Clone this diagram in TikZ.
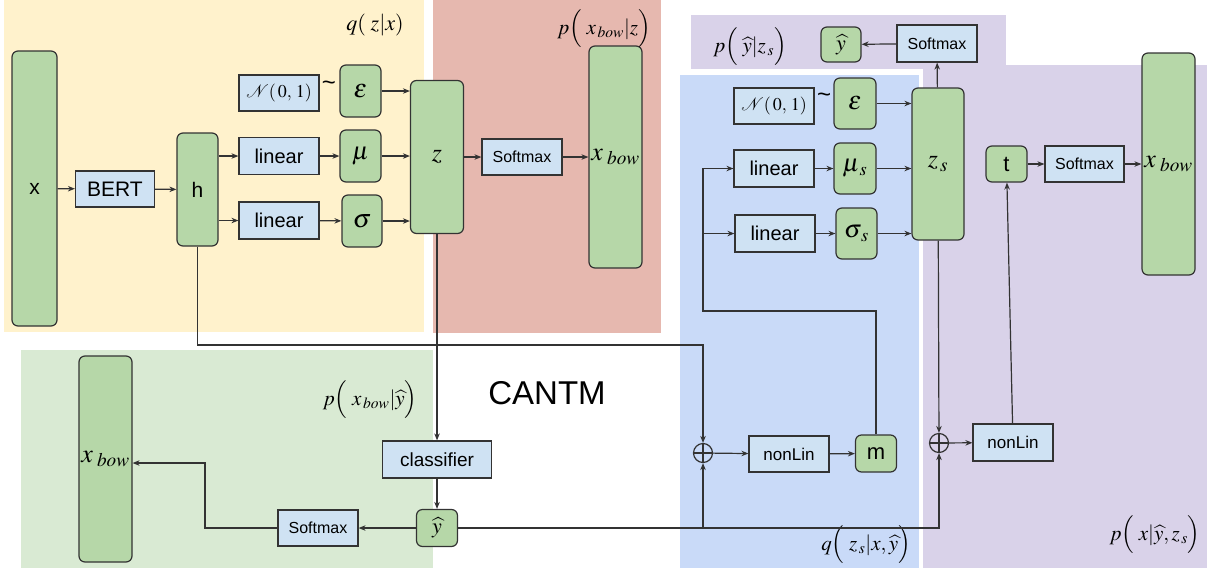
\documentclass[tikz,border=0pt]{standalone}
\usepackage{mathptmx}
\usepackage[no-math]{fontspec}
\setsansfont{Liberation Sans}
\usepackage{amsmath}
\usetikzlibrary{arrows.meta}

\definecolor{bgyellow}{HTML}{FFF2CC}
\definecolor{bgred}{HTML}{E6B8AF}
\definecolor{bggreen}{HTML}{D9EAD3}
\definecolor{bgblue}{HTML}{C9DAF8}
\definecolor{bgpurple}{HTML}{D9D2E9}
\definecolor{nodegreen}{HTML}{B6D7A8}
\definecolor{nodeblue}{HTML}{CFE2F3}
\definecolor{linegray}{HTML}{333333}

\newcommand{\fsz}[1]{\fontsize{#1}{#1}\selectfont}

\tikzset{
  gbox/.style={draw=linegray, fill=nodegreen, rounded corners=6pt, line width=1.2pt, inner sep=0pt},
  bbox/.style={draw=linegray, fill=nodeblue, line width=1.2pt, inner sep=0pt},
  sz/.style 2 args={minimum width=#1pt, minimum height=#2pt},
  oplus/.style={circle, draw=linegray, line width=1.2pt, minimum size=19pt, inner sep=0pt,
    path picture={\draw[linegray, line width=1.2pt]
      (path picture bounding box.north) -- (path picture bounding box.south)
      (path picture bounding box.west) -- (path picture bounding box.east);}},
}

\begin{document}
\begin{tikzpicture}[x=1pt,y=-1pt, line width=1.2pt, draw=linegray,
  >={Stealth[length=7pt,width=5.5pt]}]
\useasboundingbox (0,0) rectangle (1207,568);

% coloured regions
\fill[bgyellow] (4,0) rectangle (424,332);
\fill[bgred] (433,0) rectangle (661,333);
\fill[bggreen] (21,350) rectangle (433,568);
\fill[bgblue] (680,75) rectangle (919,568);
\fill[bgpurple] (691,15) rectangle (1006,69);
\fill[bgpurple] (923,65) rectangle (1207,568);

% q(z|x)
\node[gbox, sz={45}{275}, font=\sffamily\fsz{21}] (x) at (34.5,188.5) {x};
\node[bbox, sz={79}{36}, font=\sffamily\fsz{21}] (bert) at (115,189) {BERT};
\node[gbox, sz={41}{113}, font=\sffamily\fsz{21}] (h) at (197.5,189.5) {h};
\node[bbox, sz={80}{36}, font=\fsz{18}] (nrm) at (279,93) {$\mathcal{N}(\,0,\,1)$};
\node[font=\sffamily\fsz{24}] (tl) at (329,86) {\textasciitilde};
\node[gbox, sz={41}{52}, font=\fsz{26}] (eps) at (360.5,91) {$\varepsilon$};
\node[bbox, sz={80}{37}, font=\sffamily\fsz{20}] (lin1) at (279,156) {linear};
\node[gbox, sz={41}{52}, font=\fsz{25}] (mu) at (360.5,156) {$\mu$};
\node[bbox, sz={80}{37}, font=\sffamily\fsz{20}] (lin2) at (279,220.5) {linear};
\node[gbox, sz={40}{52}, font=\fsz{26}] (sig) at (362,221) {$\sigma$};
\node[gbox, sz={53}{153}, font=\fsz{26}] (z) at (437,157) {$z$};
\node[font=\fsz{22}] (lq1) at (375,25) {$q(\;z\vert x)$};

% p(x_bow|z)
\node[bbox, sz={80}{36}, font=\sffamily\fsz{16}] (smx1) at (522,157) {Softmax};
\node[gbox, sz={53}{222}, font=\fsz{26}] (xb1) at (615.5,157) {$x_{\;bow}$};
\node[font=\fsz{21}] (lp1) at (604,29) {$p\Bigl(\;x_{\,bow}\vert z\Bigr)$};

% p(x_bow|y)
\node[bbox, sz={109}{37}, font=\sffamily\fsz{19}] (clf) at (437,459.5) {classifier};
\node[gbox, sz={41}{37}, font=\fsz{22}] (yh) at (437,528) {$\widehat{y}$};
\node[bbox, sz={80}{36}, font=\sffamily\fsz{16}] (smx2) at (318,528) {Softmax};
\node[gbox, sz={53}{206}, font=\fsz{26}] (xb2) at (105.5,459) {$x_{\;bow}$};
\node[font=\fsz{21}] (lp2) at (370,400) {$p\Bigl(\;x_{\,bow}\vert\widehat{y}\Bigr)$};
\node[font=\sffamily\fsz{33}] (title) at (547,393) {CANTM};

% q(z_s|x,y)
\node[oplus] (op1) at (703,453) {};
\node[bbox, sz={80}{36}, font=\sffamily\fsz{17}] (nl1) at (789,454) {nonLin};
\node[gbox, sz={41}{37}, font=\sffamily\fsz{22}] (m) at (876,453.5) {m};
\node[bbox, sz={80}{36}, font=\fsz{18}] (nrm2) at (774,106) {$\mathcal{N}(\,0,\,1)$};
\node[font=\sffamily\fsz{24}] (tl2) at (824,98) {\textasciitilde};
\node[gbox, sz={42}{51}, font=\fsz{26}] (eps2) at (855,103.5) {$\varepsilon$};
\node[bbox, sz={80}{37}, font=\sffamily\fsz{20}] (lin3) at (774,168.5) {linear};
\node[gbox, sz={42}{51}, font=\fsz{25}] (mu2) at (855,168.5) {$\mu_{\,s}$};
\node[bbox, sz={80}{37}, font=\sffamily\fsz{20}] (lin4) at (775,233.5) {linear};
\node[gbox, sz={41}{51}, font=\fsz{25}] (sig2) at (856.5,233.5) {$\sigma_{\,s}$};
\node[gbox, sz={52}{152}, font=\fsz{26}] (zs) at (938,164) {$z_{\,s}$};
\node[font=\fsz{21}] (lq2) at (866,545) {$q\Bigl(\;z_{\,s}\vert x,\widehat{y}\Bigr)$};

% p(y|z_s)
\node[gbox, sz={40}{35}, font=\fsz{22}] (yh2) at (841,44.5) {$\widehat{y}$};
\node[bbox, sz={80}{37}, font=\sffamily\fsz{16}] (smx3) at (937,43.5) {Softmax};
\node[font=\fsz{21}] (lp3) at (750,47) {$p\Bigl(\;\widehat{y}\vert z_{\,s}\Bigr)$};

% p(x|y,z_s)
\node[gbox, sz={41}{36}, font=\sffamily\fsz{22}] (t) at (1006.5,164) {t};
\node[bbox, sz={79}{36}, font=\sffamily\fsz{16}] (smx4) at (1084.5,164) {Softmax};
\node[gbox, sz={53}{222}, font=\fsz{26}] (xb3) at (1168.5,164) {$x_{\;bow}$};
\node[oplus] (op2) at (939,443) {};
\node[bbox, sz={80}{37}, font=\sffamily\fsz{17}] (nl2) at (1013,442.5) {nonLin};
\node[font=\fsz{21}] (lp4) at (1155,535) {$p\Bigl(\;x\vert\widehat{y},z_{\,s}\Bigr)$};

\coordinate (hb) at (703,345);
\coordinate (mt) at (703,311);
\coordinate (sb) at (205,463);

% connectors
\draw[->] (x) -- (bert);
\draw[->] (bert) -- (h);
\draw[->] (h.east |- lin1) -- (lin1);
\draw[->] (h.east |- lin2) -- (lin2);
\draw[->] (lin1) -- (mu);
\draw[->] (lin2) -- (sig);
\draw[->] (eps) -- (z.west |- eps);
\draw[->] (mu) -- (z.west |- mu);
\draw[->] (sig) -- (z.west |- sig);
\draw[->] (z) -- (smx1);
\draw[->] (smx1) -- (xb1);
\draw[->] (h.south) |- (hb) -- (op1.north);
\draw[->] (z) -- (clf);
\draw[->] (clf) -- (yh);
\draw[->] (yh) -- (smx2);
\draw[->] (smx2.west) -| (sb) -- (xb2.east |- sb);
\draw[->] (yh.east) -| (op2.south);
\draw[->] (op1.south |- yh) -- (op1.south);
\draw[->] (op1) -- (nl1);
\draw[->] (nl1) -- (m);
\draw[->, line width=1.8pt] (m.north) |- (mt) |- (lin3.west);
\draw[->] (mt |- lin4) -- (lin4);
\draw[->] (lin3) -- (mu2);
\draw[->] (lin4) -- (sig2);
\draw[->] (eps2) -- (zs.west |- eps2);
\draw[->] (mu2) -- (zs.west |- mu2);
\draw[->] (sig2) -- (zs.west |- sig2);
\draw[->] (zs) -- (smx3);
\draw[->] (smx3) -- (yh2);
\draw[->] (zs) -- (op2);
\draw[->] (op2) -- (nl2);
\draw[->] (nl2) -- (t);
\draw[->] (t) -- (smx4);
\draw[->] (smx4) -- (xb3);
\end{tikzpicture}
\end{document}
